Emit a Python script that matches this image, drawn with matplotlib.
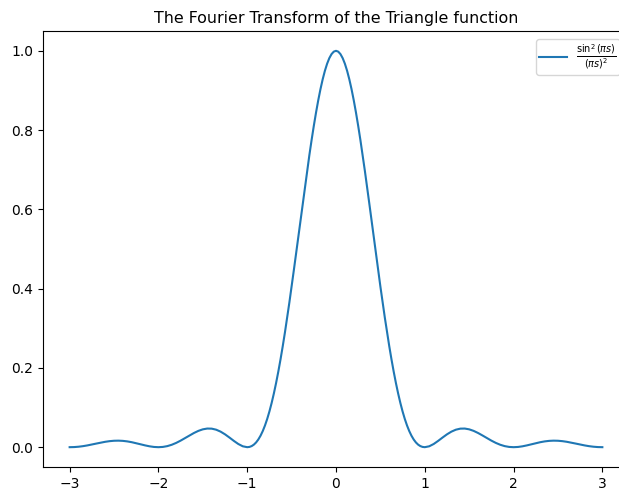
import numpy as np
import matplotlib
matplotlib.use('Agg')
import matplotlib.pyplot as plt

# values: step 0.05 on the outer parts, 0.025 on [-1, 1]
s_left = np.linspace(-3, -1.05, 40)
s_mid = np.linspace(-1, 1, 81)
s_right = np.linspace(1.05, 3, 40)

y_left = [0.0, 0.00028, 0.00115, 0.00257, 0.00447, 0.00670, 0.00910, 0.01145, 0.01356, 0.01520,
          0.01621, 0.01647, 0.01591, 0.01457, 0.01254, 0.01001, 0.00723, 0.00452, 0.00219, 0.00059,
          0.0, 0.00065, 0.00268, 0.00610, 0.01080, 0.01654, 0.02295, 0.02955, 0.03580, 0.04114,
          0.04503, 0.04701, 0.04676, 0.04414, 0.03924, 0.03242, 0.02431, 0.01579, 0.00800, 0.00225]
y_mid = [0.0, 0.00066, 0.00275, 0.00645, 0.01194, 0.01938, 0.02890, 0.04064, 0.05470, 0.07115,
         0.09006, 0.11146, 0.13534, 0.16167, 0.19039, 0.22140, 0.25457, 0.28975, 0.32675, 0.36534,
         0.40528, 0.44631, 0.48811, 0.53037, 0.57279, 0.61499, 0.65664, 0.69738, 0.73684, 0.77469,
         0.81057, 0.84416, 0.87514, 0.90322, 0.92814, 0.94964, 0.96753, 0.98163, 0.99179, 0.99795,
         1.0,
         0.99795, 0.99179, 0.98163, 0.96753, 0.94964, 0.92814, 0.90322, 0.87514, 0.84416, 0.81057,
         0.77469, 0.73684, 0.69738, 0.65664, 0.61499, 0.57279, 0.53037, 0.48811, 0.44631, 0.40528,
         0.36534, 0.32675, 0.28975, 0.25457, 0.22140, 0.19039, 0.16167, 0.13534, 0.11146, 0.09006,
         0.07115, 0.05470, 0.04064, 0.02890, 0.01938, 0.01194, 0.00645, 0.00275, 0.00066, 0.0]
y_right = [0.00225, 0.00800, 0.01579, 0.02431, 0.03242, 0.03924, 0.04414, 0.04676, 0.04701, 0.04503,
           0.04114, 0.03580, 0.02955, 0.02295, 0.01654, 0.01080, 0.00610, 0.00268, 0.00065, 0.0,
           0.00059, 0.00219, 0.00452, 0.00723, 0.01001, 0.01254, 0.01457, 0.01591, 0.01647, 0.01621,
           0.01520, 0.01356, 0.01145, 0.00910, 0.00670, 0.00447, 0.00257, 0.00115, 0.00028, 0.0]

s = np.concatenate([s_left, s_mid, s_right])
y = y_left + y_mid + y_right

fig = plt.figure(figsize=(6.19, 4.90), dpi=100)
# axes runs past the right edge of the picture, as in the original crop
ax = fig.add_axes([43/619, 23/490, 586/619, 436/490])
ax.plot(s, y, label=r'$\frac{\sin^2(\pi s)}{(\pi s)^2}$')
ax.set_title('The Fourier Transform of the Triangle function', x=(336 - 43) / 586, fontsize=11.4)
ax.set_xticks([-3, -2, -1, 0, 1, 2, 3])
fig.legend(loc='upper left', bbox_to_anchor=(536/619, 1 - 39/490), borderaxespad=0,
           borderpad=0.25, handletextpad=0.6)

plt.savefig('out.png')
plt.close()
